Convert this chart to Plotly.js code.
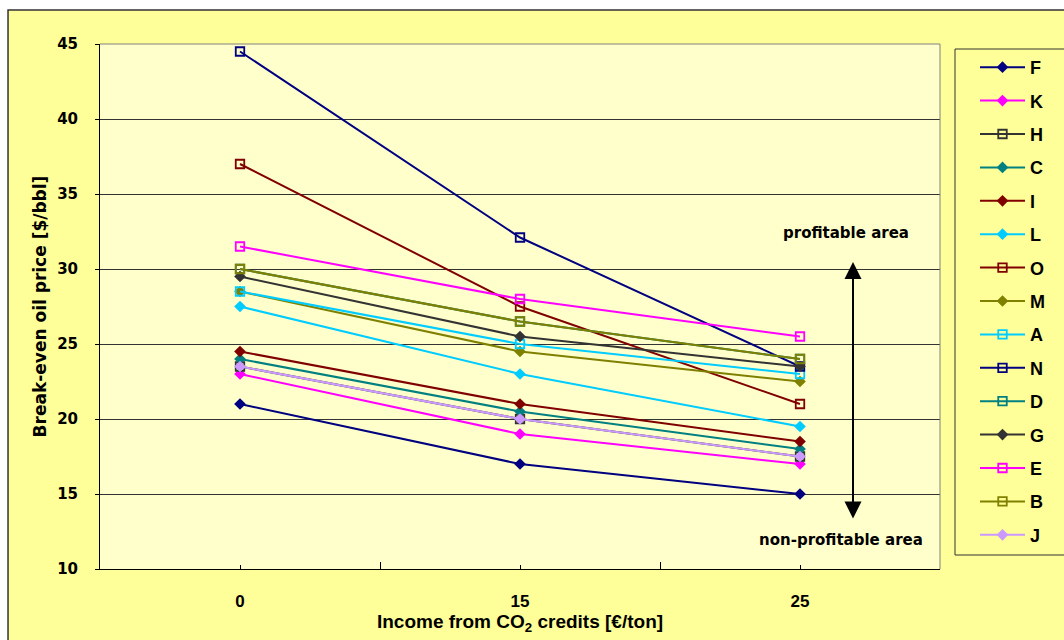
<!DOCTYPE html>
<html>
<head>
<meta charset="utf-8">
<script src="https://cdn.plot.ly/plotly-3.0.1.min.js"></script>
<style>html,body{margin:0;padding:0;background:#fff;}#chart{width:1064px;height:640px;}</style>
</head>
<body>
<div id="chart"></div>
<script>
const categories = ['0', '15', '25'];
const seriesNames = ['F','K','H','C','I','L','O','M','A','N','D','G','E','B','J'];
const F = [21, 17, 15];
const K = [23, 19, 17];
const H = [23.5, 20, 17.5];
const C = [24, 20.5, 18];
const I = [24.5, 21, 18.5];
const L = [27.5, 23, 19.5];
const O = [37, 27.5, 21];
const M = [28.5, 24.5, 22.5];
const A = [28.5, 25, 23];
const N = [44.5, 32.1, 23.5];
const D = [30, 26.5, 24];
const G = [29.5, 25.5, 23.5];
const E = [31.5, 28, 25.5];
const B = [30, 26.5, 24];
const J = [23.5, 20, 17.5];
const seriesValues = {F,K,H,C,I,L,O,M,A,N,D,G,E,B,J};
const yTickVals = [10, 15, 20, 25, 30, 35, 40, 45];

const styles = {
  F: {color:'#000080', sym:'diamond'},
  K: {color:'#FF00FF', sym:'diamond'},
  H: {color:'#333333', sym:'square-open'},
  C: {color:'#008080', sym:'diamond'},
  I: {color:'#800000', sym:'diamond'},
  L: {color:'#00CCFF', sym:'diamond'},
  O: {color:'#800000', sym:'square-open'},
  M: {color:'#808000', sym:'diamond'},
  A: {color:'#00CCFF', sym:'square-open'},
  N: {color:'#000080', sym:'square-open'},
  D: {color:'#008080', sym:'square-open'},
  G: {color:'#333333', sym:'diamond'},
  E: {color:'#FF00FF', sym:'square-open'},
  B: {color:'#808000', sym:'square-open'},
  J: {color:'#CC99FF', sym:'diamond'}
};

const traces = seriesNames.map(n => {
  const s = styles[n];
  const open = s.sym === 'square-open';
  return {
    type: 'scatter', mode: 'lines+markers', name: n, legendgroup: n,
    x: categories, y: seriesValues[n],
    line: {color: s.color, width: 2},
    marker: {symbol: s.sym, color: s.color, size: open ? 8.5 : 9,
             line: {color: s.color, width: open ? 1.8 : 0}}
  };
});
// helper trace so the secondary x axis (category-centre ticks) is drawn
traces.push({type: 'scatter', mode: 'lines', x: categories, y: categories.map(() => null),
             xaxis: 'x2', showlegend: false, hoverinfo: 'skip'});

const sans = 'Liberation Sans, Arial, sans-serif';
const wide = 'DejaVu Sans, Verdana, sans-serif';
const bold = (family, size) => ({family: family, size: size, weight: 'bold', color: '#000'});

const layout = {
  width: 1064, height: 640,
  margin: {l: 100, r: 124, t: 44, b: 71},
  paper_bgcolor: '#FFFF99',
  plot_bgcolor: '#FFFFCC',
  font: bold(sans, 16),
  showlegend: true,
  legend: {
    x: (975 - 100) / 840, y: (569 - 49) / 525, xanchor: 'left', yanchor: 'top',
    bgcolor: 'rgba(0,0,0,0)', borderwidth: 0,
    font: bold(sans, 18),
    tracegroupgap: 7, itemwidth: 45
  },
  xaxis: {
    type: 'category', categoryarray: categories, range: [-0.5, 2.5],
    tickson: 'boundaries', ticks: 'inside', ticklen: 7, tickcolor: '#000',
    showline: true, linecolor: '#000', linewidth: 1,
    showgrid: false, zeroline: false,
    tickfont: bold(sans, 17),
    ticklabelstandoff: 17,
    title: {text: 'Income from CO<sub>2</sub> credits [€/ton]', standoff: 2, font: bold(sans, 19)}
  },
  xaxis2: {
    overlaying: 'x', anchor: 'y', type: 'category', categoryarray: categories, range: [-0.5, 2.5],
    ticks: 'inside', ticklen: 4, tickcolor: '#000',
    showticklabels: false, showgrid: false, zeroline: false, showline: false
  },
  yaxis: {
    range: [10, 45], tickmode: 'array', tickvals: yTickVals,
    ticks: 'outside', ticklen: 4, tickcolor: '#000',
    showline: true, linecolor: '#000', linewidth: 1,
    showgrid: true, gridcolor: '#333333', gridwidth: 1, zeroline: false,
    tickfont: bold(wide, 15),
    ticklabelstandoff: 14,
    title: {text: 'Break-even oil price [$/bbl]', standoff: 6, font: bold(wide, 17)}
  },
  shapes: [
    {type: 'rect', xref: 'paper', yref: 'paper', x0: -0.2, x1: 1.3, y0: 1.0648, y1: 1.2,
     line: {width: 0}, fillcolor: '#FFFFFF', layer: 'below'},
    {type: 'rect', xref: 'paper', yref: 'paper', x0: -0.2, x1: -0.1095, y0: -0.2, y1: 1.2,
     line: {width: 0}, fillcolor: '#FFFFFF', layer: 'below'},
    {type: 'rect', xref: 'paper', yref: 'paper', x0: -0.1095, x1: 1.2, y0: -0.2, y1: 1.0648,
     line: {width: 1.5, color: '#333333'}, fillcolor: 'rgba(0,0,0,0)', layer: 'below'},
    {type: 'rect', xref: 'paper', yref: 'paper', x0: (955 - 100) / 840, x1: 1.2,
     y0: (569 - 555) / 525, y1: (569 - 49) / 525,
     line: {width: 1, color: '#333333'}, fillcolor: 'rgba(0,0,0,0)', layer: 'below'},
    {type: 'line', xref: 'paper', yref: 'paper', x0: 0, x1: 1, y0: 1, y1: 1,
     line: {width: 1, color: '#808080'}},
    {type: 'line', xref: 'paper', yref: 'paper', x0: 1, x1: 1, y0: 0, y1: 1,
     line: {width: 1, color: '#808080'}}
  ],
  annotations: [
    {xref: 'paper', yref: 'paper', x: (853 - 100) / 840, y: (569 - 262) / 525,
     axref: 'pixel', ayref: 'pixel', ax: 0, ay: 258,
     text: '', showarrow: true, arrowhead: 2, startarrowhead: 2, arrowside: 'end+start',
     arrowsize: 1.7, startarrowsize: 1.7, arrowwidth: 2, arrowcolor: '#000'},
    {xref: 'paper', yref: 'paper', x: (846 - 100) / 840, y: (569 - 233) / 525,
     text: 'profitable area', showarrow: false, xanchor: 'center', yanchor: 'middle',
     font: bold(wide, 15)},
    {xref: 'paper', yref: 'paper', x: (841 - 100) / 840, y: (569 - 540) / 525,
     text: 'non-profitable area', showarrow: false, xanchor: 'center', yanchor: 'middle',
     font: bold(wide, 15)}
  ]
};

Plotly.newPlot('chart', traces, layout, {displayModeBar: false, staticPlot: true});
</script>
</body>
</html>
